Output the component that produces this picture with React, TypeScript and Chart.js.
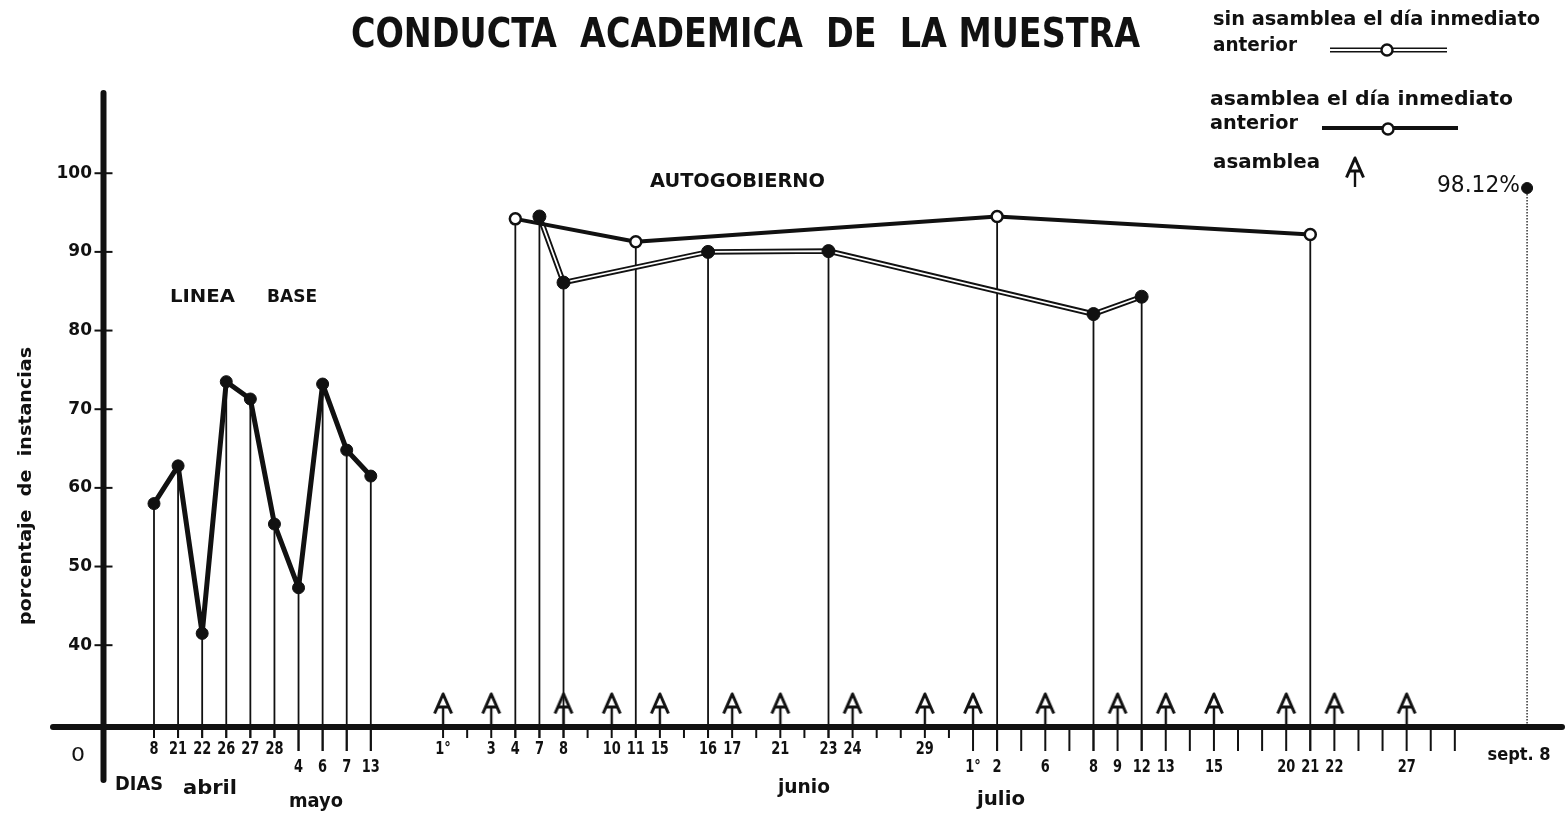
import React, { useEffect, useRef } from 'react';
import { Chart, registerables } from 'chart.js';

Chart.register(...registerables);

// ---------------- data ----------------
// x values are the ordinal slots of the hand-drawn day axis (one slot per tick mark)
const baselineSlots = [0, 1, 2, 3, 4, 5, 6, 7, 8, 9];
const baselineValues = [58.0, 62.8, 41.5, 73.5, 71.3, 55.4, 47.3, 73.2, 64.8, 61.5];

// "asamblea el día inmediato anterior" (thick line, open circles)
const withAssemblySlots = [15, 20, 35, 48];
const withAssemblyValues = [94.2, 91.3, 94.5, 92.2];

// "sin asamblea el día inmediato anterior" (double line, filled dots)
const withoutAssemblySlots = [16, 17, 23, 28, 39, 41];
const withoutAssemblyValues = [94.5, 86.1, 90.0, 90.1, 82.1, 84.3];

const finalSlots = [57];
const finalValues = [98.12];

// days with an "asamblea" (A markers)
const assemblyDaySlots = [12, 14, 17, 19, 21, 24, 26, 29, 32, 34, 37, 40, 42, 44, 47, 49, 52];

const tickSlots = [
  0, 1, 2, 3, 4, 5,
  6, 7, 8, 9,
  12, 13, 14, 15, 16, 17, 18, 19, 20, 21, 22, 23, 24, 25, 26, 27, 28, 29, 30, 31, 32, 33,
  34, 35, 36, 37, 38, 39, 40, 41, 42, 43, 44, 45, 46, 47, 48, 49, 50, 51, 52, 53, 54,
  57,
];
const tickLabels = [
  '8', '21', '22', '26', '27', '28',
  '4', '6', '7', '13',
  '1°', '', '3', '4', '7', '8', '', '10', '11', '15', '', '16', '17', '', '21', '', '23', '24', '', '', '29', '',
  '1°', '2', '', '6', '', '8', '9', '12', '13', '', '15', '', '', '20', '21', '22', '', '', '27', '', '',
  'sept. 8',
];
const tickMonths = [
  ...Array(6).fill('abril'),
  ...Array(4).fill('mayo'),
  ...Array(22).fill('junio'),
  ...Array(21).fill('julio'),
  'septiembre',
];
const yTickValues = [40, 50, 60, 70, 80, 90, 100];

const titleText = 'CONDUCTA  ACADEMICA  DE  LA MUESTRA';
const yTitleText = 'porcentaje  de  instancias';
const legendWithout = ['sin asamblea el día inmediato', 'anterior'];
const legendWith = ['asamblea el día inmediato', 'anterior'];
const legendAssembly = 'asamblea';
const baselineLabel = ['LINEA', 'BASE'];
const phaseLabel = 'AUTOGOBIERNO';
const monthLabels = ['DIAS', 'abril', 'mayo', 'junio', 'julio'];

// ---------------- styles / layout ----------------
const INK = '#111111';
const Y_MIN = 29.6;
const Y_MAX = 110.2;
const X_MIN = -2.117;
const X_MAX = 58.2;
const COND = '"DejaVu Sans Condensed", "Liberation Sans", sans-serif';
const GEO = '"DejaVu Sans", sans-serif';
const ROW_OFFSET: Record<string, number> = { abril: 22, mayo: 40, junio: 22, julio: 40, septiembre: 28 };
const TICK_LEN: Record<string, number> = { abril: 11, mayo: 24, junio: 11, julio: 24, septiembre: 0 };
const LABEL_SQUEEZE: Record<string, number> = { abril: 0.8, mayo: 0.8, junio: 0.8, julio: 0.8, septiembre: 1.0 };
const LABEL_SHIFT: Record<string, number> = { abril: 0, mayo: 0, junio: 0, julio: 0, septiembre: -8 };
// [left, right, centerY] boxes for annotation texts
const MONTH_BOXES = [
  [115, 163, 785],
  [183, 237, 789],
  [289, 343, 802],
  [778, 830, 788],
  [977, 1025, 800],
];

function fitText(ctx: CanvasRenderingContext2D, text: string, left: number, right: number, cy: number, font: string) {
  ctx.save();
  ctx.font = font;
  const w = ctx.measureText(text).width || 1;
  const s = (right - left) / w;
  ctx.translate((left + right) / 2, cy);
  ctx.scale(s, 1);
  ctx.textAlign = 'center';
  ctx.textBaseline = 'middle';
  ctx.fillStyle = INK;
  ctx.fillText(text, 0, 0);
  ctx.restore();
}

function squeezedText(ctx: CanvasRenderingContext2D, text: string, cx: number, cy: number, font: string, sx: number) {
  ctx.save();
  ctx.font = font;
  ctx.translate(cx, cy);
  ctx.scale(sx, 1);
  ctx.textAlign = 'center';
  ctx.textBaseline = 'middle';
  ctx.fillStyle = INK;
  ctx.fillText(text, 0, 0);
  ctx.restore();
}

function makeAssemblyMarker(): HTMLCanvasElement {
  const c = document.createElement('canvas');
  c.width = 26;
  c.height = 72;
  const g = c.getContext('2d')!;
  g.strokeStyle = INK;
  g.lineWidth = 3;
  g.lineJoin = 'round';
  g.lineCap = 'butt';
  g.beginPath();
  g.moveTo(4.5, 22.5);
  g.lineTo(13, 3);
  g.lineTo(21.5, 22.5);
  g.stroke();
  g.beginPath();
  g.moveTo(7.4, 16);
  g.lineTo(18.6, 16);
  g.stroke();
  g.lineWidth = 2.4;
  g.beginPath();
  g.moveTo(13, 15);
  g.lineTo(13, 36);
  g.stroke();
  return c;
}

function makePlugin(marker: HTMLCanvasElement) {
  return {
    id: 'paperChart',
    beforeDatasetsDraw(chart: any) {
      const { ctx } = chart;
      const xs = chart.scales.x;
      const ys = chart.scales.y;
      const axisY = ys.getPixelForValue(Y_MIN);
      ctx.save();
      ctx.strokeStyle = INK;
      ctx.lineWidth = 2;
      tickSlots.forEach((s, i) => {
        const len = TICK_LEN[tickMonths[i]];
        if (!len) return;
        const px = xs.getPixelForValue(s);
        ctx.beginPath();
        ctx.moveTo(px, axisY);
        ctx.lineTo(px, axisY + len);
        ctx.stroke();
      });
      chart.data.datasets.forEach((ds: any, i: number) => {
        if (!ds.dropLine) return;
        const meta = chart.getDatasetMeta(i);
        meta.data.forEach((pt: any, j: number) => {
          const k = tickSlots.indexOf(ds.data[j].x);
          const len = k >= 0 ? TICK_LEN[tickMonths[k]] : 0;
          ctx.save();
          if (ds.dropLine === 'dotted') {
            ctx.setLineDash([1.5, 1.5]);
            ctx.strokeStyle = '#555';
            ctx.lineWidth = 1.8;
          } else {
            ctx.strokeStyle = INK;
            ctx.lineWidth = 1.8;
          }
          ctx.beginPath();
          ctx.moveTo(pt.x, pt.y);
          ctx.lineTo(pt.x, axisY + len);
          ctx.stroke();
          ctx.restore();
        });
      });
      ctx.restore();
    },
    afterDatasetsDraw(chart: any) {
      const { ctx, chartArea } = chart;
      const ys = chart.scales.y;
      const axisY = ys.getPixelForValue(Y_MIN);
      const axisX = chartArea.left + 0.5;
      ctx.save();
      ctx.strokeStyle = INK;
      ctx.lineCap = 'round';
      ctx.lineWidth = 6;
      ctx.beginPath();
      ctx.moveTo(axisX, chartArea.top);
      ctx.lineTo(axisX, axisY + 53);
      ctx.stroke();
      ctx.beginPath();
      ctx.moveTo(53, axisY);
      ctx.lineTo(chartArea.right + 6, axisY);
      ctx.stroke();
      ctx.lineCap = 'butt';
      ctx.lineWidth = 2;
      yTickValues.forEach((v) => {
        const py = ys.getPixelForValue(v);
        ctx.beginPath();
        ctx.moveTo(axisX - 9, py);
        ctx.lineTo(axisX + 9, py);
        ctx.stroke();
      });
      ctx.restore();
    },
    afterDraw(chart: any) {
      const { ctx } = chart;
      const xs = chart.scales.x;
      const ys = chart.scales.y;
      const axisY = ys.getPixelForValue(Y_MIN);
      ctx.save();
      // title
      fitText(ctx, titleText, 351, 1140, 37, `bold 40px ${COND}`);
      // y-axis title (rotated)
      ctx.save();
      ctx.translate(26, 486);
      ctx.rotate(-Math.PI / 2);
      fitText(ctx, yTitleText, -139, 139, 0, `bold 18px ${GEO}`);
      ctx.restore();
      // day tick labels
      tickSlots.forEach((s, i) => {
        const lab = tickLabels[i];
        if (!lab) return;
        const m = tickMonths[i];
        squeezedText(ctx, lab, xs.getPixelForValue(s) + LABEL_SHIFT[m], axisY + ROW_OFFSET[m], `bold 18px ${COND}`, LABEL_SQUEEZE[m]);
      });
      // origin + months
      fitText(ctx, '0', 71, 85, axisY + 29, `20px ${GEO}`);
      monthLabels.forEach((m, i) => {
        const [l, r, cy] = MONTH_BOXES[i];
        fitText(ctx, m, l, r, cy, `bold 19px ${GEO}`);
      });
      // phase annotations
      fitText(ctx, baselineLabel[0], 170, 235, 297, `bold 18px ${GEO}`);
      fitText(ctx, baselineLabel[1], 267, 317, 297, `bold 18px ${GEO}`);
      fitText(ctx, phaseLabel, 650, 825, 182, `bold 19px ${GEO}`);
      fitText(ctx, `${finalValues[0].toFixed(2)}%`, 1437, 1520, 186, `23px ${GEO}`);
      // legend
      const lf = `bold 20px ${GEO}`;
      fitText(ctx, legendWithout[0], 1213, 1540, 20, lf);
      fitText(ctx, legendWithout[1], 1213, 1297, 46, lf);
      fitText(ctx, legendWith[0], 1210, 1513, 100, lf);
      fitText(ctx, legendWith[1], 1210, 1298, 124, lf);
      fitText(ctx, legendAssembly, 1213, 1320, 163, lf);
      // legend symbol: double line
      ctx.lineCap = 'butt';
      ctx.strokeStyle = INK;
      ctx.lineWidth = 5;
      ctx.beginPath();
      ctx.moveTo(1330, 50);
      ctx.lineTo(1447, 50);
      ctx.stroke();
      ctx.strokeStyle = '#fff';
      ctx.lineWidth = 1.8;
      ctx.beginPath();
      ctx.moveTo(1330, 50);
      ctx.lineTo(1447, 50);
      ctx.stroke();
      const openCircle = (cx: number, cy: number) => {
        ctx.beginPath();
        ctx.arc(cx, cy, 5.5, 0, Math.PI * 2);
        ctx.fillStyle = '#fff';
        ctx.fill();
        ctx.lineWidth = 2.4;
        ctx.strokeStyle = INK;
        ctx.stroke();
      };
      openCircle(1387, 50);
      // legend symbol: thick line
      ctx.strokeStyle = INK;
      ctx.lineWidth = 4;
      ctx.beginPath();
      ctx.moveTo(1322, 128);
      ctx.lineTo(1458, 128);
      ctx.stroke();
      openCircle(1388, 129);
      // legend symbol: asamblea marker (upper part)
      ctx.drawImage(marker, 0, 0, marker.width, 32, 1342, 155, marker.width, 32);
      ctx.restore();
    },
  };
}

const pts = (xs: number[], ys: number[]) => xs.map((x, i) => ({ x, y: ys[i] }));

export default function App() {
  const ref = useRef<HTMLCanvasElement>(null);
  useEffect(() => {
    const canvas = ref.current;
    if (!canvas) return;
    const marker = makeAssemblyMarker();
    const chart = new Chart(canvas, {
      type: 'line',
      data: {
        datasets: [
          {
            label: 'sin asamblea (contorno)',
            data: pts(withoutAssemblySlots, withoutAssemblyValues),
            borderColor: INK,
            borderWidth: 5.5,
            pointRadius: 0,
            tension: 0,
            order: 6,
            clip: false,
          },
          {
            label: 'sin asamblea (interior)',
            data: pts(withoutAssemblySlots, withoutAssemblyValues),
            borderColor: '#ffffff',
            borderWidth: 1.8,
            pointRadius: 0,
            tension: 0,
            order: 5,
            clip: false,
          },
          {
            label: 'sin asamblea el día inmediato anterior',
            data: pts(withoutAssemblySlots, withoutAssemblyValues),
            showLine: false,
            pointRadius: 6.5,
            pointBackgroundColor: INK,
            pointBorderColor: INK,
            pointBorderWidth: 1,
            order: 4,
            clip: false,
            dropLine: 'solid',
          } as any,
          {
            label: 'asamblea el día inmediato anterior',
            data: pts(withAssemblySlots, withAssemblyValues),
            borderColor: INK,
            borderWidth: 4,
            borderJoinStyle: 'round',
            pointRadius: 5.5,
            pointBackgroundColor: '#ffffff',
            pointBorderColor: INK,
            pointBorderWidth: 2.5,
            tension: 0,
            order: 3,
            clip: false,
            dropLine: 'solid',
          } as any,
          {
            label: 'LINEA BASE',
            data: pts(baselineSlots, baselineValues),
            borderColor: INK,
            borderWidth: 5,
            borderJoinStyle: 'round',
            pointRadius: 6,
            pointBackgroundColor: INK,
            pointBorderColor: INK,
            pointBorderWidth: 1,
            tension: 0,
            order: 2,
            clip: false,
            dropLine: 'solid',
          } as any,
          {
            label: 'sept. 8',
            data: pts(finalSlots, finalValues),
            showLine: false,
            pointRadius: 5.5,
            pointBackgroundColor: INK,
            pointBorderColor: INK,
            order: 1,
            clip: false,
            dropLine: 'dotted',
          } as any,
          {
            label: 'asamblea',
            data: assemblyDaySlots.map((x) => ({ x, y: Y_MIN })),
            showLine: false,
            pointStyle: marker,
            pointRadius: 10,
            order: 0,
            clip: false,
          } as any,
        ],
      },
      options: {
        responsive: false,
        animation: false,
        events: [],
        layout: { padding: { left: 0, right: 4, top: 93, bottom: 86 } },
        plugins: { legend: { display: false }, tooltip: { enabled: false }, title: { display: false } },
        scales: {
          x: { type: 'linear', min: X_MIN, max: X_MAX, display: false },
          y: {
            type: 'linear',
            min: Y_MIN,
            max: Y_MAX,
            afterBuildTicks: (s: any) => {
              s.ticks = yTickValues.map((v) => ({ value: v }));
            },
            afterFit: (s: any) => {
              s.width = 103;
            },
            grid: { display: false, drawTicks: false },
            border: { display: false },
            ticks: {
              color: INK,
              padding: 11,
              font: { family: 'DejaVu Sans', size: 17, weight: 'bold' },
              callback: (v: any) => String(v),
            },
          },
        },
      } as any,
      plugins: [makePlugin(marker)],
    });
    return () => chart.destroy();
  }, []);
  return (
    <div style={{ position: 'absolute', left: 0, top: 0, width: 1567, height: 813, background: '#fff' }}>
      <canvas ref={ref} width={1567} height={813} />
    </div>
  );
}
